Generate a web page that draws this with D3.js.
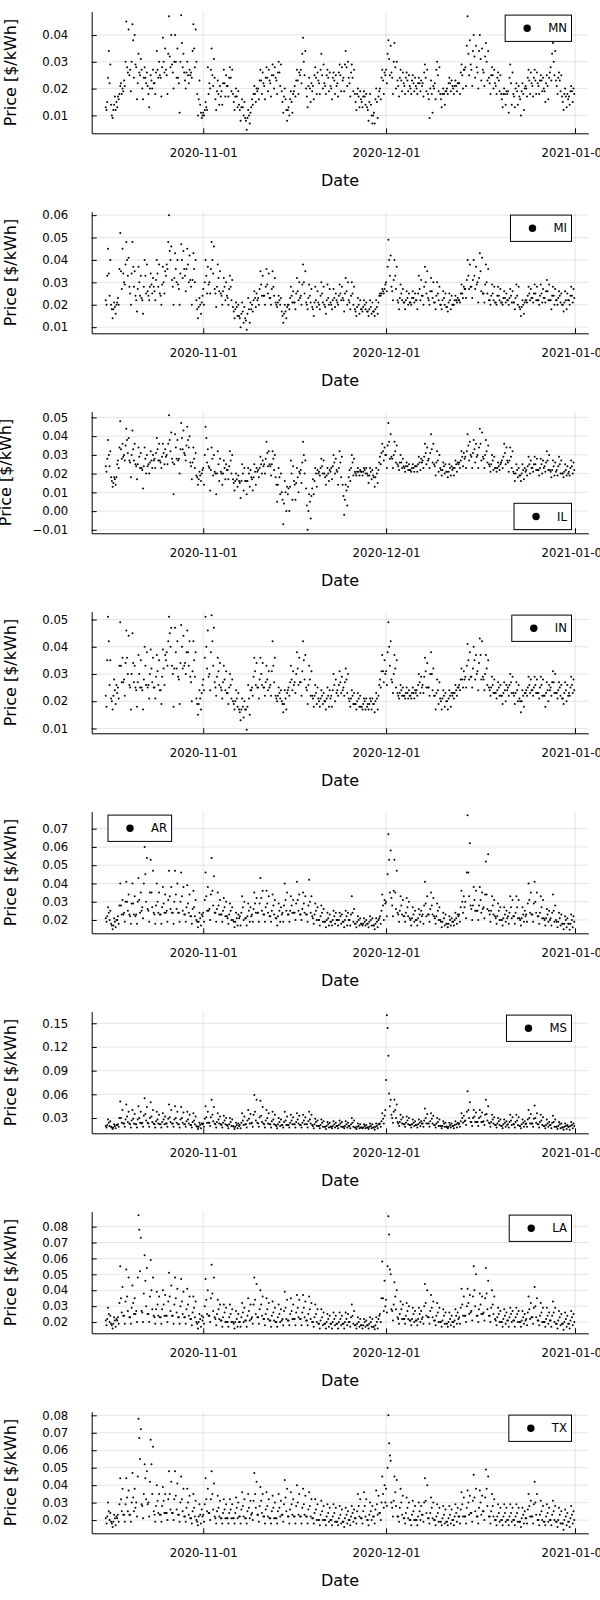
<!DOCTYPE html>
<html><head><meta charset="utf-8">
<script src="https://cdn.jsdelivr.net/npm/d3@7"></script>
<style>
body{margin:0;background:#fff}
svg{display:block}
text{font-family:"DejaVu Sans",sans-serif;fill:#000}
</style></head>
<body><svg id="chart" width="600" height="1600"></svg>
<script>
// ---------- DATA ----------
// Prices in $/MWh (= $/kWh x 1000), one reading every 3 hours from 2020-10-16 00:00 UTC
// (one line of 8 readings per day, Oct 16 .. Dec 31)
const START = Date.UTC(2020, 9, 16, 0);
const STEP_HOURS = 3;
const states = ["MN","MI","IL","IN","AR","MS","LA","TX"];
const xTickLabels = ["2020-11-01","2020-12-01","2021-01-01"];

const MN = [13,12,15,24,34,22,29,14, 10,9,12,14,17,12,15,13, 17,16,18,21,22,18,20,19, 23,21,30,45,28,26,42,25,
27,19,30,44,38,24,40,29, 28,16,22,33,26,25,31,27, 20,16,24,28,24,22,26,21, 18,13,20,25,23,20,27,22,
22,18,26,34,27,24,30,25, 24,17,28,39,30,26,35,27, 25,18,33,47,32,28,40,29, 26,20,30,40,30,24,35,24,
22,11,30,47.4,37,28,33,26, 23,20,26,30,25,22,27,25, 26,24,34,44,35,28,42,30, 18,10,16,23,14,11,9,10,
11,10,12,15,13,12,28,18, 22,20,27,35,25,21,31,24, 16,12,19,23,18,14,21,17, 19,14,22,27,22,17,25,21,
21,17,24,28,24,19,27,18, 15,12,17,20,17,13,19,14, 12,8,13,16,13,10,15,9, 8,4.6,9,12,10,7,11,13,
16,14,18,21,18,15,20,19, 20,16,23,27,23,18,26,22, 21,16,24,28,24,19,27,23, 22,17,25,29,25,20,28,24,
23,18,26,30,26,21,29,19, 15,11,17,20,16,12,8,12, 13,10,16,19,15,11,18,19, 21,17,23,27,23,18,26,25,
27,22,33,39,30,25,34,20, 17,13,21,24,20,15,22,19, 21,16,25,28,24,18,26,23, 22,18,27,33,25,20,29,22,
21,18,25,27,24,19,26,21, 20,16,24,26,23,18,25,21, 22,17,26,29,25,19,28,23, 24,19,29,34,28,21,30,24,
22,17,26,29,24,19,27,18, 15,12,18,20,17,13,19,16, 15,13,17,19,17,14,18,13, 12,8,15,18,14,10,7,10,
11,7,16,20,15,9,17,19, 20,16,24,27,23,18,26,25, 27,22,33,38,31,25,36,26, 24,18,30,37,28,20,30,23,
21,17,24,27,23,19,26,22, 21,18,24,26,23,19,25,21, 20,18,23,25,22,19,24,21, 20,18,22,24,22,19,23,21,
22,17,26,29,24,19,27,18, 16,9,20,23,18,11,21,20, 22,16,27,30,25,19,28,18, 16,13,18,20,18,14,19,19,
20,18,22,24,22,19,23,21, 20,18,21,23,21,19,22,22, 22,18,26,29,25,20,27,27, 28,21,36,47,33,25,38,29,
27,21,34,40,32,24,36,28, 26,20,34,40,31,23,35,27, 26,21,32,37,30,23,34,24, 22,18,25,28,25,20,27,22,
21,18,24,26,23,19,25,18, 16,13,18,20,18,14,19,18, 19,11,24,29,22,14,26,18, 17,13,20,22,19,14,21,17,
16,10,19,22,18,12,20,21, 20,17,24,27,23,18,26,22, 21,17,24,27,23,18,26,22, 21,18,23,25,23,19,24,20,
19,15,22,25,21,16,24,26, 28,23,33,37,30,25,34,23, 21,18,24,26,23,19,25,17, 15,12,18,20,17,13,18,16,
17,14,19,21,19,15,20,18];

const MI = [22,20,33,45,34,24,40,20, 18,14,18,21,19,16,20,21, 23,20,36,52,35,27,45,34, 30,29,38,48,40,33,41,28,
25,20,34,48,37,28,35,24, 22,17,27,37,30,24,33,23, 22,16,28,40,33,25,38,26, 24,22,28,34,29,25,32,28,
26,22,31,40,34,28,38,25, 24,20,29,37,30,25,35,33, 38,36,48,60,44,40,46,31, 28,20,32,43,36,30,40,29,
27,20,34,47,40,32,44,36, 33,26,36,45,38,30,42,31, 28,20,31,43,36,30,40,22, 18,14,19,23,20,16,21,24,
27,20,30,40,33,25,37,29, 30,25,36,48,40,34,46,27, 25,19,28,38,32,26,35,25, 24,20,26,32,28,22,30,24,
23,20,27,33,28,22,31,19, 17,14,18,21,19,15,20,15, 14,10,16,21,17,12,19,14, 13,8.8,16,23,18,12,21,18,
20,17,22,26,23,19,25,22, 23,20,27,35,29,24,33,24, 24,20,28,36,29,25,34,23, 23,20,27,35,28,24,32,21,
20,19,21,24,22,20,23,17, 15,12,16,20,17,14,19,20, 20,18,23,28,24,21,26,21, 21,18,25,32,26,22,30,23,
24,20,29,38,30,25,35,21, 20,18,23,29,24,21,27,19, 18,15,21,28,22,19,26,21, 20,18,24,30,25,21,28,20,
19,16,22,29,23,20,27,21, 20,18,22,27,23,19,25,22, 21,20,24,29,25,22,28,23, 22,17,25,32,26,20,30,22,
21,18,24,30,25,20,28,18, 17,15,19,23,20,16,22,18, 18,17,19,22,20,18,21,17, 17,15,18,22,19,16,21,17,
17,15,18,22,19,16,21,24, 25,24,25,27,26,25,27,29, 30,26,37,49,40,33,42,28, 26,22,31,40,33,27,37,22,
21,18,23,29,25,22,27,21, 21,18,22,26,23,20,25,21, 21,20,23,26,23,21,25,22, 22,18,25,33,27,22,31,24,
24,20,28,37,30,25,35,23, 22,20,26,32,26,23,30,21, 21,18,24,30,25,22,28,20, 20,18,22,26,23,20,25,19,
19,17,21,25,22,18,24,20, 20,20,22,24,22,21,23,22, 22,21,25,29,25,23,28,27, 27,23,31,40,33,27,38,28,
28,23,31,40,33,27,37,29, 30,21,32,43,35,26,41,25, 25,21,29,38,30,25,36,22, 22,20,24,29,25,22,28,21,
21,20,24,28,24,22,27,21, 21,20,23,26,23,21,25,22, 22,20,23,27,24,21,26,21, 21,18,23,29,24,20,28,19,
18,15,19,22,20,16,21,22, 22,21,24,28,25,22,27,23, 23,21,25,29,25,22,28,22, 22,20,24,29,25,21,27,23,
23,21,26,31,26,22,29,22, 22,18,24,28,24,20,27,22, 22,20,23,26,24,21,25,20, 20,17,21,26,22,18,25,22,
22,20,24,28,24,21,27,23];

const IL = [24,21,28,38,30,24,32,18, 16,13,15,18,17,14,18,25, 27,23,34,48,33,28,36,29, 30,27,35,44,38,31,39,27,
26,18,30,43,33,27,36,25, 24,17,25,34,29,23,31,23, 22,12,24,34,28,20,30,24, 25,20,26,32,27,23,30,27,
28,23,31,39,33,27,36,27, 26,23,29,36,31,25,33,29, 30,25,36,51.2,38,32,42,28, 26,9,25,41,34,28,38,27,
28,20,33,47,39,33,43,31, 30,27,35,45,38,34,40,26, 24,17,26,34,28,23,31,19, 18,14,17,21,19,16,20,22,
23,14,30,45,39,26,33,24, 23,11,22,34,28,19,30,21, 20,9,20,32,25,16,28,21, 20,14,20,27,23,17,25,22,
22,17,24,32,27,20,30,17, 15,11,16,20,17,13,19,16, 15,7,16,25,20,11,23,16, 16,9,16,23,20,13,22,18,
17,11,18,25,21,14,23,21, 22,18,23,29,25,20,27,24, 25,20,28,37,31,24,32,25, 24,19,25,32,28,22,30,18,
14,5,14,23,18,9,20,10, 6,-7,4,16,10,0,13,9, 12,0,13,27,20,6,24,16, 14,6,15,23,18,10,21,20,
22,15,26,37,30,20,27,12, 3,-10,0,9,5,-4,8,12, 17,9,16,23,20,13,22,20, 21,19,23,28,24,20,27,20,
18,14,19,23,20,16,22,21, 23,17,24,30,26,20,28,22, 21,14,23,32,26,18,29,14, 8,-2,6,14,11,3,13,18,
22,16,23,30,26,19,28,21, 20,19,21,23,21,19,22,21, 21,19,21,23,22,20,23,20, 19,15,19,23,21,17,22,19,
18,13,18,23,20,15,22,26, 29,25,31,36,32,27,34,30, 30,23,35,47,37,28,41,29, 28,23,30,37,32,26,35,25,
24,22,26,30,26,23,28,24, 23,21,24,26,24,22,25,22, 22,21,23,25,23,21,24,24, 24,21,25,29,26,22,28,26,
27,23,29,36,31,25,34,27, 28,23,31,41,33,26,36,25, 24,19,26,32,27,21,30,23, 22,19,22,26,24,20,25,21,
21,18,21,25,23,19,24,22, 23,19,23,27,25,21,26,25, 26,23,27,32,29,24,31,28, 29,23,32,41,35,27,37,30,
29,23,31,38,33,26,36,29, 30,23,34,44,36,27,42,29, 28,23,30,38,32,26,35,25, 24,21,25,30,27,22,29,23,
23,21,23,26,24,22,25,26, 27,23,29,36,31,25,34,27, 26,21,27,34,29,23,32,21, 20,16,20,25,22,18,23,19,
19,16,20,25,22,17,23,21, 22,19,24,29,25,20,27,23, 23,21,25,29,25,22,28,22, 22,19,23,28,25,20,27,23,
24,21,26,32,27,22,30,22, 21,18,22,27,24,19,26,21, 22,19,24,29,25,20,27,20, 20,18,21,25,22,19,24,20,
21,19,23,27,24,20,26,22];

const IN = [22,18,35,51,42,26,35,21, 20,17,22,28,24,19,26,23, 25,21,33,49,33,27,36,27, 28,22,34,46,36,30,44,26,
25,17,30,45,34,27,33,25, 24,18,27,37,30,25,35,25, 24,17,28,40,33,26,38,25, 26,21,30,39,32,27,36,25,
25,21,29,37,31,26,35,24, 24,19,29,39,32,26,37,35, 38,33,42,51,45,40,47,33, 30,18,32,47,38,32,42,29,
28,19,34,48,40,32,44,33, 34,30,38,46,38,33,42,29, 27,20,31,42,35,29,38,21, 19,15,19,24,21,17,23,26,
28,24,36,51,40,32,46,29, 30,24,38,51.6,42,33,47,27, 25,22,29,36,31,26,34,25, 24,21,27,33,28,24,31,23,
23,19,25,30,26,21,28,20, 19,17,20,24,21,18,23,17, 16,13,17,21,18,14,20,17, 17,9.5,18,26,21,15,24,24,
25,22,29,36,31,26,34,25, 25,21,28,36,30,26,34,25, 25,22,27,33,28,24,31,25, 26,22,31,42,33,27,36,22,
21,20,22,25,23,21,24,20, 19,16,19,24,21,17,23,24, 25,22,27,33,28,24,31,26, 27,23,30,38,32,26,36,27,
27,22,31,42,35,28,37,25, 24,19,26,33,28,22,31,22, 21,18,22,26,23,19,25,21, 20,18,21,24,22,19,23,20,
20,17,21,25,22,18,24,21, 22,18,24,30,26,20,28,23, 24,22,26,31,27,23,29,24, 25,22,27,32,28,23,30,21,
20,18,21,24,22,19,23,19, 19,17,20,23,21,18,22,18, 18,17,19,21,20,17,21,18, 19,17,19,21,20,17,21,19,
19,16,20,23,21,17,22,26, 28,25,31,37,31,27,35,30, 31,26,38,49,40,33,42,28, 27,23,30,37,32,25,35,23,
22,21,23,26,24,22,25,22, 22,21,23,25,23,21,24,22, 22,21,23,25,23,21,24,23, 24,22,26,30,27,23,29,25,
26,23,29,36,31,25,34,25, 25,22,30,38,30,24,32,22, 22,17,23,28,24,19,27,21, 20,17,21,24,22,18,23,20,
20,17,21,24,22,18,23,22, 23,21,23,26,24,22,25,25, 26,24,28,32,28,25,31,28, 29,25,33,41,35,28,38,29,
29,25,32,40,35,28,37,30, 31,24,34,43,37,28,42,29, 28,24,30,37,32,26,35,25, 24,22,25,29,26,23,28,23,
23,21,24,27,25,22,26,22, 22,19,23,27,24,20,26,24, 25,22,26,30,27,23,29,23, 22,19,23,27,24,20,26,21,
20,16,20,24,22,18,23,23, 24,22,25,29,26,23,28,24, 24,22,25,29,26,23,28,23, 23,21,25,29,26,22,28,22,
22,18,23,27,24,20,26,24, 25,22,27,31,27,23,30,23, 23,21,24,27,25,22,26,21, 21,19,23,27,24,20,26,22,
23,22,25,29,26,23,28,24];

const AR = [21,19,22,27,24,20,25,18, 17,15,17,21,19,16,20,20, 22,18,28,40,28,23,31,23, 24,19,30,41,30,25,34,23,
22,18,29,40,29,23,33,22, 23,18,30,43,31,24,35,25, 27,21,40,60,45,30,54,26, 25,19,35,53,35,27,47,24,
23,18,28,40,30,24,35,23, 23,18,27,38,29,24,34,24, 25,19,31,47,33,26,38,24, 24,18,30,47,34,26,40,24,
24,19,30,46,33,25,38,23, 23,19,27,39,29,24,34,22, 22,18,26,36,27,22,31,20, 19,16,19,24,21,17,23,22,
24,19,31,46,33,25,38,25, 26,20,34,54,36,28,44,24, 24,19,26,35,28,23,31,23, 23,19,25,32,27,22,30,22,
21,18,23,29,25,20,27,20, 19,16,19,24,21,17,23,21, 22,17,24,33,27,20,30,21, 21,17,22,29,25,19,27,22,
23,19,26,35,29,24,32,24, 24,19,29,43,32,25,36,23, 23,19,27,36,29,24,33,22, 22,19,25,34,28,23,31,21,
21,17,22,29,25,19,27,23, 24,19,28,40,31,25,35,23, 23,19,25,33,28,24,31,24, 24,20,29,41,31,25,34,23,
23,20,26,35,29,24,33,23, 23,19,28,42,30,24,33,22, 21,18,23,29,25,20,27,20, 20,17,22,28,24,19,26,19,
19,16,20,24,21,17,23,19, 19,17,20,25,22,18,24,20, 20,17,20,24,22,18,23,19, 19,16,20,25,22,17,24,20,
20,17,23,33,24,19,26,18, 18,16,19,22,20,17,21,18, 18,17,18,21,19,17,20,18, 18,16,19,22,20,17,21,17,
17,15,18,21,19,16,20,21, 22,18,25,34,28,20,31,29, 30,22,45,67,53,35,58,32, 28,22,36,53,35,26,47,24,
23,19,25,33,28,23,31,22, 22,19,24,32,27,22,30,21, 20,17,21,27,23,19,25,20, 20,17,21,26,23,19,25,22,
23,18,28,41,29,22,33,23, 23,19,26,35,28,23,32,22, 21,18,22,29,25,20,27,20, 19,16,19,24,21,17,23,18,
18,16,18,22,20,17,21,19, 19,17,20,24,21,18,23,22, 23,19,27,36,30,24,33,27, 30,21,46,77.4,46,33,62,28,
26,20,28,38,31,25,36,25, 25,20,28,38,31,24,35,26, 27,21,34,52,34,26,56,25, 23,19,25,33,28,23,31,22,
21,18,22,29,25,20,27,20, 20,17,21,27,23,19,25,21, 22,18,24,33,27,21,31,22, 22,18,24,33,27,21,31,21,
20,17,21,27,23,19,25,22, 23,19,29,40,31,24,35,23, 23,19,29,41,30,24,35,22, 22,18,24,33,27,21,31,21,
20,17,21,26,23,19,25,20, 21,17,24,34,25,19,28,20, 19,16,19,24,21,17,23,18, 18,15,18,22,20,16,21,18,
18,14.6,18,23,20,16,22,19];

const MS = [20,18,21,28,24,20,26,19, 18,16,18,22,20,17,21,21, 22,19,30,51,30,24,40,23, 23,19,28,47,32,25,38,23,
22,18,27,40,29,23,35,22, 22,18,28,45,30,24,38,23, 24,19,33,55,35,27,44,24, 23,19,30,50,32,25,40,23,
22,18,26,38,28,23,34,22, 22,18,25,36,28,22,32,23, 23,19,29,47,31,25,40,23, 23,19,28,45,30,24,38,22,
22,18,28,44,30,24,37,22, 22,19,26,38,28,23,34,21, 21,18,25,36,27,22,32,20, 19,16,19,24,21,17,23,22,
23,19,29,45,31,24,38,24, 24,20,31,53,34,26,44,23, 22,18,25,36,28,23,32,22, 21,18,24,33,27,22,30,21,
20,17,22,30,25,20,28,20, 19,16,19,24,21,17,23,20, 21,17,24,36,27,21,32,22, 22,18,27,40,29,23,35,23,
24,19,34,59,38,27,53,24, 23,19,31,52,33,25,44,23, 22,18,27,40,30,23,36,22, 22,18,26,38,28,22,34,21,
20,17,22,30,25,20,28,21, 21,18,25,38,27,21,32,21, 21,18,24,34,27,22,31,22, 22,18,25,36,28,23,33,21,
21,18,24,34,27,22,31,22, 22,18,26,38,28,23,34,21, 20,17,22,29,25,20,27,20, 20,17,21,28,24,19,26,19,
19,16,20,25,22,18,24,19, 19,17,20,26,22,18,24,20, 20,17,21,27,23,19,25,19, 19,17,20,26,22,18,24,20,
20,17,22,30,24,19,27,18, 18,16,19,23,20,17,22,18, 18,17,18,22,20,17,21,18, 18,16,19,23,20,17,22,18,
18,15,19,23,20,17,22,22, 23,19,26,36,29,23,33,40, 78,160.3,144,109,61,45,53,34, 30,24,38,53,40,30,47,25,
23,20,25,34,28,23,31,22, 22,19,24,32,27,22,30,21, 21,18,22,28,24,20,26,21, 21,18,22,28,24,20,26,23,
23,19,27,42,30,23,35,23, 23,19,26,36,29,23,33,21, 21,18,23,30,25,20,28,20, 20,17,20,26,23,19,24,19,
19,17,19,24,21,18,23,20, 20,17,21,26,22,18,24,22, 23,19,26,36,30,24,33,26, 27,21,38,64,40,30,50,25,
25,20,30,40,32,25,37,25, 25,20,30,40,32,25,37,25, 26,21,34,53,35,27,45,24, 23,19,25,34,28,23,31,21,
21,18,23,30,26,21,28,20, 20,17,22,28,24,19,26,21, 22,18,25,34,27,21,31,22, 22,18,25,34,27,21,31,20,
20,17,22,28,24,19,26,22, 23,19,28,40,30,23,35,23, 23,19,29,46,30,24,36,22, 22,18,25,34,27,21,31,20,
20,17,21,28,23,19,25,21, 21,17,24,33,25,19,28,19, 19,16,20,25,22,17,23,18, 18,15,19,23,20,16,21,19,
19,15,20,25,21,17,23,20];

const LA = [21,18,22,29,25,20,24,19, 18,16,19,23,21,17,22,21, 23,19,32,55,35,26,42,24, 24,19,33,53,36,27,48,23,
23,19,29,43,32,25,35,25, 27,20,48,87.2,78,52,73,27, 26,20,38,62,46,30,54,25, 25,20,36,59,40,28,48,24,
23,19,28,39,31,24,36,23, 23,19,28,40,31,24,37,24, 24,20,33,51,36,27,43,24, 24,19,31,48,35,26,41,23,
23,19,30,47,33,25,39,23, 23,19,28,41,31,24,36,22, 22,18,26,36,29,23,33,20, 19,16,20,25,22,17,24,21,
23,19,30,47,34,25,40,24, 24,20,35,56,38,27,48,23, 22,18,25,34,28,22,31,21, 21,17,23,31,26,20,29,20,
20,17,23,31,25,20,28,20, 19,16,20,27,22,17,25,20, 20,17,23,32,26,20,29,21, 21,17,24,35,27,21,31,22,
23,19,31,48,34,25,44,23, 23,19,28,40,31,24,36,22, 22,18,25,35,28,22,32,21, 21,17,24,33,26,21,29,20,
20,17,23,31,25,20,28,21, 22,18,27,39,29,22,34,21, 21,18,25,35,27,22,31,22, 22,18,26,37,29,23,34,22,
22,18,26,37,29,23,33,21, 21,18,25,36,28,22,32,20, 20,17,23,31,25,20,28,19, 19,16,21,28,23,18,26,19,
19,16,20,25,22,17,24,19, 19,16,20,26,22,18,24,19, 19,16,20,26,22,18,24,19, 19,16,20,26,22,18,25,20,
20,17,23,31,24,19,27,18, 18,16,19,23,20,17,22,18, 18,16,18,22,20,17,21,18, 18,16,19,23,20,17,22,17,
17,15.5,18,23,20,16,22,24, 25,20,35,58,35,27,46,30, 34,26,55,86.5,75,53,50,28, 27,21,31,45,36,28,40,23,
22,19,25,33,28,22,31,22, 22,19,24,32,27,22,30,21, 21,18,22,29,25,20,27,21, 21,18,22,29,25,20,27,22,
23,19,30,44,32,24,40,23, 23,19,27,37,29,23,33,21, 21,18,24,32,26,20,29,20, 20,17,21,28,24,19,26,19,
19,17,20,26,22,18,24,20, 20,17,21,28,24,19,26,22, 23,19,29,41,31,24,36,24, 24,20,30,41,32,25,37,26,
27,21,36,55,40,30,50,24, 24,20,28,38,31,25,36,25, 26,21,35,54,38,28,46,24, 24,20,29,40,31,25,36,22,
21,18,23,29,25,20,27,20, 20,17,22,28,24,19,26,21, 21,17,23,29,25,20,27,21, 21,17,23,29,25,20,27,20,
20,17,21,27,23,19,25,21, 22,18,26,36,28,22,32,23, 23,19,29,42,30,23,35,21, 21,18,24,32,26,20,29,20,
20,17,22,29,24,19,26,21, 21,17,24,33,26,20,29,19, 19,16,21,27,23,18,25,19, 19,15.1,20,26,22,17,24,19,
19,16,21,27,23,18,25,20];

const TX = [21,18,22,30,25,20,24,19, 18,16,19,23,21,17,22,21, 23,19,29,44,32,25,38,23, 23,19,29,44,33,25,37,23,
23,19,30,47,33,25,38,27, 30,22,45,78,67,55,72,29, 28,21,35,52,44,32,48,29, 30,22,42,66,52,35,62,25,
23,19,28,40,31,24,35,23, 23,19,28,39,31,24,35,24, 24,20,32,48,35,26,42,24, 24,20,32,48,34,26,41,23,
23,19,30,45,32,25,38,22, 22,19,27,38,30,23,34,21, 21,18,25,35,27,22,31,20, 19,17,22,29,23,18,26,22,
23,19,29,44,32,25,38,24, 24,20,32,48,35,26,41,22, 21,18,25,34,27,22,31,21, 21,18,24,32,26,21,29,21,
21,18,24,32,26,21,29,21, 21,18,24,33,27,21,30,22, 22,18,26,36,28,22,32,21, 21,18,25,35,27,21,31,23,
24,20,31,47,35,27,42,23, 23,19,28,39,31,24,35,22, 22,18,26,36,28,22,32,21, 21,18,25,34,27,21,30,21,
21,18,25,35,27,22,31,23, 23,19,29,43,33,25,38,22, 22,18,26,36,29,23,32,22, 22,18,28,40,30,23,35,22,
22,18,27,38,29,23,34,22, 22,18,26,36,28,22,32,21, 21,18,24,32,26,20,29,20, 20,17,23,31,25,20,28,20,
20,17,22,29,24,19,27,20, 20,17,22,29,24,19,27,19, 19,17,21,28,23,18,26,19, 19,16,21,27,23,18,25,20,
20,17,22,28,24,19,26,21, 21,18,25,35,28,22,32,21, 21,18,25,36,28,22,32,20, 20,17,23,30,25,20,28,22,
22,18,26,37,29,23,34,24, 24,20,30,45,35,27,40,30, 38,28,50,80.1,64,57,54,30, 27,22,31,45,36,28,43,22,
22,19,27,38,30,23,34,21, 21,18,24,33,27,21,30,20, 20,17,23,31,25,20,28,20, 20,17,22,30,25,20,28,23,
23,19,30,44,31,24,40,21, 21,18,24,33,27,21,30,20, 20,17,22,29,24,19,27,19, 19,17,21,28,23,18,26,19,
19,17,21,28,23,18,26,20, 20,17,22,29,24,19,27,22, 22,18,26,36,29,22,33,22, 22,18,27,37,30,23,34,24,
24,19,31,46,33,25,38,22, 22,18,27,37,30,23,34,25, 25,20,33,49,38,28,45,22, 22,18,25,35,28,22,32,20,
20,17,22,29,24,19,27,20, 20,17,22,29,24,19,27,20, 20,17,22,29,24,19,27,20, 20,17,22,29,24,19,27,19,
19,16,21,27,23,18,25,21, 21,18,26,35,28,22,31,22, 22,18,29,42,30,23,35,20, 20,17,23,31,25,20,28,19,
19,17,22,29,24,19,27,20, 20,17,23,31,25,20,28,19, 19,16,20,27,23,18,25,18, 18,14.4,20,26,22,17,24,19,
19,16,21,28,23,18,25,20];

// y tick values ($/kWh) per panel
const MN_yticks = [0.01,0.02,0.03,0.04];
const MI_yticks = [0.01,0.02,0.03,0.04,0.05,0.06];
const IL_yticks = [-0.01,0.00,0.01,0.02,0.03,0.04,0.05];
const IN_yticks = [0.01,0.02,0.03,0.04,0.05];
const AR_yticks = [0.02,0.03,0.04,0.05,0.06,0.07];
const MS_yticks = [0.03,0.06,0.09,0.12,0.15];
const LA_yticks = [0.02,0.03,0.04,0.05,0.06,0.07,0.08];
const TX_yticks = [0.02,0.03,0.04,0.05,0.06,0.07,0.08];

// legend placement per panel (style)
const legendPlace = ["tr","tr","br","tr","tl","tr","tr","tr"];

// ---------- DRAW ----------
const seriesList = [MN, MI, IL, IN, AR, MS, LA, TX];
const yTickList = [MN_yticks, MI_yticks, IL_yticks, IN_yticks, AR_yticks, MS_yticks, LA_yticks, TX_yticks];

const PANEL_H = 200, L = 91.7, R = 588.3, T = 11.7, B = 133.3;
const svg = d3.select("#chart");
const widen = ([a, b]) => { a = +a; b = +b; const m = (b - a) * 0.03; return [a - m, b + m]; };
const parse = d3.utcParse("%Y-%m-%d");
const xTicks = xTickLabels.map(parse);

seriesList.forEach((vals, k) => {
  const pts = vals.map((v, i) => ({ t: new Date(START + i * STEP_HOURS * 3600e3), p: v / 1000 }));
  const xd = widen(d3.extent(pts, d => d.t));
  const x = d3.scaleUtc().domain([new Date(xd[0]), new Date(xd[1])]).range([L, R]);
  const y = d3.scaleLinear().domain(widen(d3.extent(pts, d => d.p))).range([B, T]);
  const g = svg.append("g").attr("transform", `translate(0,${k * PANEL_H})`);

  // grid
  const grid = g.append("g").attr("stroke", "#000").attr("stroke-opacity", 0.1).attr("stroke-width", 1);
  grid.selectAll(".gx").data(xTicks).join("line")
    .attr("x1", d => x(d)).attr("x2", d => x(d)).attr("y1", T).attr("y2", B);
  grid.selectAll(".gy").data(yTickList[k]).join("line")
    .attr("x1", L).attr("x2", R).attr("y1", d => y(d)).attr("y2", d => y(d));

  // points
  g.append("g").selectAll("circle").data(pts).join("circle")
    .attr("cx", d => x(d.t)).attr("cy", d => y(d.p)).attr("r", 1).attr("fill", "#000");

  // axes
  const fmt = d3.format(".2f");
  const ya = g.append("g").attr("transform", `translate(${L},0)`)
    .call(d3.axisLeft(y).tickValues(yTickList[k]).tickFormat(fmt).tickSize(-5).tickSizeOuter(0).tickPadding(23.4));
  const xa = g.append("g").attr("transform", `translate(0,${B})`)
    .call(d3.axisBottom(x).tickValues(xTicks).tickFormat(d3.utcFormat("%Y-%m-%d")).tickSize(-5).tickSizeOuter(0).tickPadding(15.7));
  [ya, xa].forEach(a => {
    a.select(".domain").attr("stroke", "#000").attr("stroke-width", 1);
    a.selectAll(".tick line").attr("stroke", "#000").attr("stroke-width", 1);
    a.selectAll("text").attr("font-size", "11.7px").attr("font-family", "DejaVu Sans").attr("fill", "#000");
  });

  // axis titles
  g.append("text").attr("x", (L + R) / 2).attr("y", 185.5).attr("text-anchor", "middle")
    .attr("font-size", "16px").text("Date");
  let maxW = 0;
  ya.selectAll("text").each(function () { maxW = Math.max(maxW, this.getComputedTextLength()); });
  const ylx = 16 - Math.max(0, maxW - 26) * 0.54;
  g.append("text").attr("transform", `translate(${ylx},${(T + B) / 2}) rotate(-90)`)
    .attr("text-anchor", "middle").attr("font-size", "16px").text("Price [$/kWh]");

  // legend
  const lg = g.append("g");
  const box = lg.append("rect").attr("fill", "#fff").attr("stroke", "#000").attr("stroke-width", 1);
  const lt = lg.append("text").attr("font-size", "11.7px").attr("dy", "0.35em").text(states[k]);
  const tw = lt.node().getComputedTextLength();
  const bw = 47.5 + tw, bh = 26.3;
  const place = legendPlace[k];
  const bx = place === "tl" ? L + 16.3 : R - 16.8 - bw;
  const by = place === "br" ? B - 30 : T + 3.4;
  box.attr("x", bx).attr("y", by).attr("width", bw).attr("height", bh);
  lg.append("circle").attr("cx", bx + 22).attr("cy", by + bh / 2).attr("r", 3.7).attr("fill", "#000");
  lt.attr("x", bx + 43).attr("y", by + bh / 2);
});
</script></body></html>
